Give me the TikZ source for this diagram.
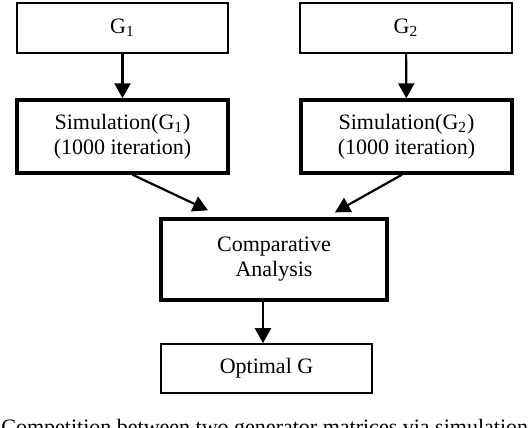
\documentclass[tikz,border=0pt]{standalone}
\usepackage{fontspec}
\setmainfont{Liberation Serif}
\usetikzlibrary{arrows.meta}

\begin{document}
\begin{tikzpicture}[x = 0.5pt, y = -0.5pt,
    font = \fontsize{11}{12.5}\selectfont,
    thinbox/.style = {rectangle, draw, line width = 0.8pt, align = center, inner sep = 0pt},
    thickbox/.style = {rectangle, draw, line width = 1.7pt, align = center, inner sep = 0pt},
    flow/.style = {line width = 1.1pt, -{Triangle[length = 7.5pt, width = 8pt]}}]
\useasboundingbox (0,0) rectangle (530,428);
\clip (0,0) rectangle (530,428);
\draw (122.5,28) node[thinbox, minimum width = 105.5pt, minimum height = 25pt](g1){G\textsubscript{1}}
    (406,28) node[thinbox, minimum width = 106pt, minimum height = 25pt](g2){G\textsubscript{2}}
    (122.5,136.5) node[thickbox, minimum width = 105.5pt, minimum height = 36.5pt](sim1){Simulation(G\textsubscript{1})\\(1000 iteration)}
    (406.5,136.5) node[thickbox, minimum width = 105.5pt, minimum height = 36.5pt](sim2){Simulation(G\textsubscript{2})\\(1000 iteration)}
    (274,259.5) node[thickbox, minimum width = 113pt, minimum height = 40.5pt](comp){Comparative\\Analysis}
    (266.5,368.5) node[thinbox, minimum width = 105.5pt, minimum height = 24.5pt](opt){Optimal G};
    \draw [flow] (g1) -- (sim1);
    \draw [flow] (g2) -- (sim2);
    \draw [flow] ([xshift = 5pt]sim1.south) -- ([xshift = -33pt, yshift = 3.5pt]comp.north);
    \draw [flow] ([xshift = -2.25pt]sim2.south) -- ([xshift = 30.5pt, yshift = 2.5pt]comp.north);
    \draw [flow] ([xshift = -1.75pt]opt.north |- comp.south) -- ([xshift = -1.75pt]opt.north);
\node[anchor = base west, inner sep = 0pt](cap) at (1,434.6) {Competition between two generator matrices via simulation};
\end{tikzpicture}
\end{document}
